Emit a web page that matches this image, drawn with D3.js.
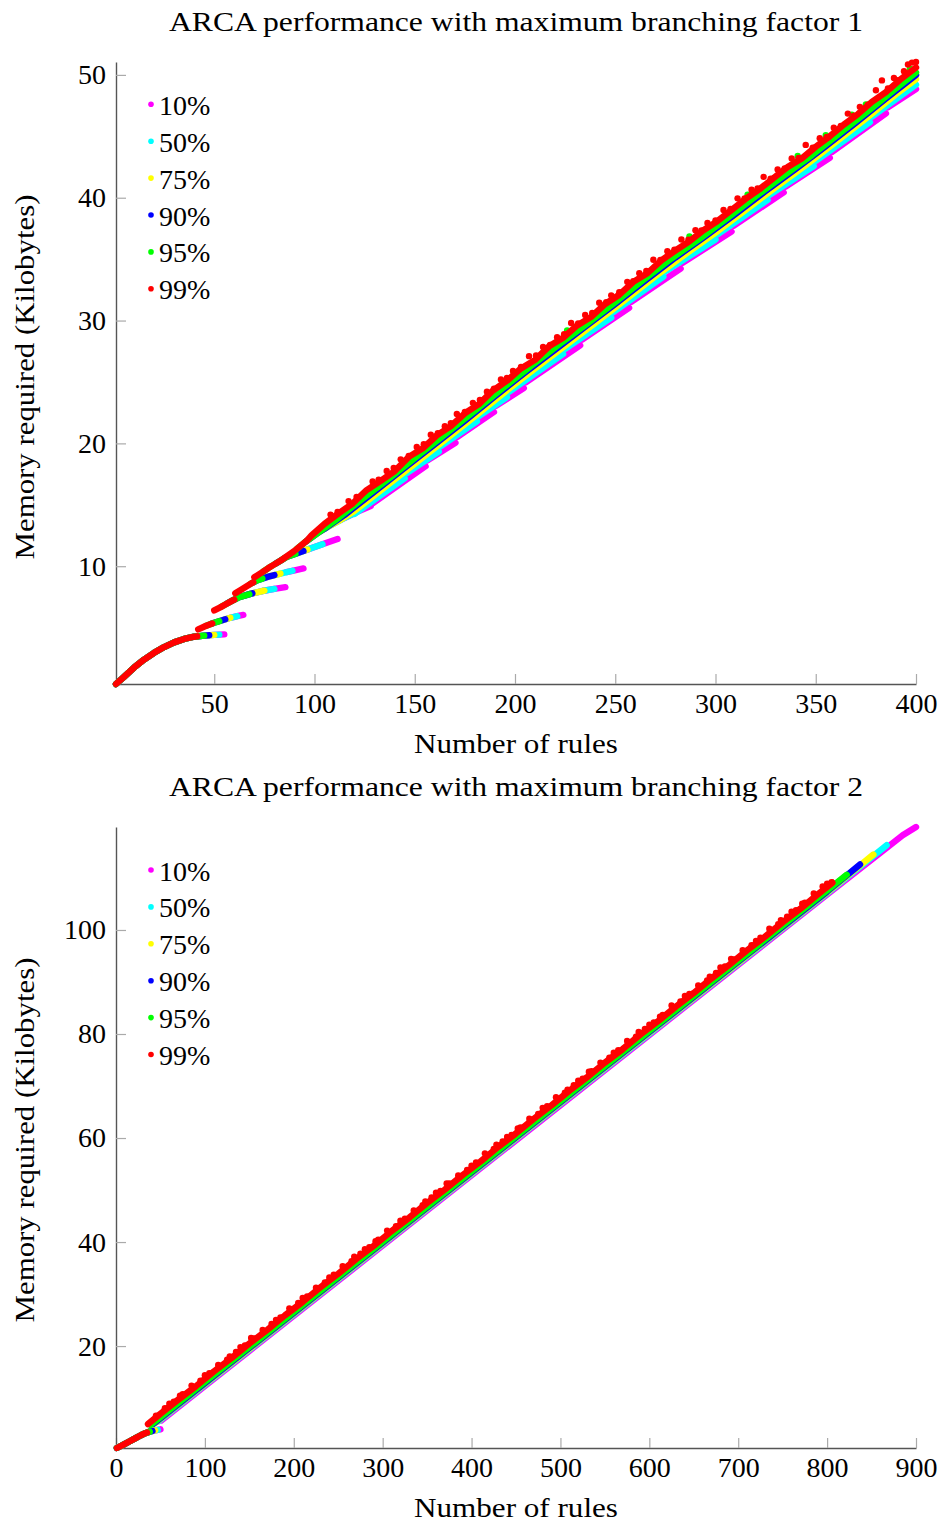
<!DOCTYPE html>
<html>
<head>
<meta charset="utf-8">
<script src="https://cdn.jsdelivr.net/npm/d3@7"></script>
<style>
  body { margin: 0; background: #fff; }
  svg, svg text { font-family: "Liberation Serif", "DejaVu Serif", "Noto Serif", serif; fill: #000; }
</style>
</head>
<body>
<svg id="chart" width="944" height="1524" font-family="Liberation Serif, DejaVu Serif, serif"></svg>
<script>
"use strict";

// series labels and colours, drawn in this order (99% ends up on top)
var seriesNames = ["10%", "50%", "75%", "90%", "95%", "99%"];
var seriesColors = ["#ff00ff", "#00ffff", "#ffff00", "#0000ff", "#00ff00", "#ff0000"];

// tick values
var topXTicks = [50, 100, 150, 200, 250, 300, 350, 400];
var topYTicks = [10, 20, 30, 40, 50];
var botXTicks = [0, 100, 200, 300, 400, 500, 600, 700, 800, 900];
var botYTicks = [20, 40, 60, 80, 100];

// branching factor 1 -- every series is a list of runs of [rules, kilobytes]
var top10 = [
  [[1,0.41],[5,1.0],[10,1.75],[15,2.4],[20,2.95],[25,3.42],[30,3.8],[35,4.08],[40,4.26],[45,4.35],[50,4.41],[55,4.45]],
  [[56,5.7],[58,5.8],[62,5.95],[64.5,6.03]],
  [[65.5,7.62],[68,7.75],[74,7.98],[80,8.15],[85.5,8.29]],
  [[86,9.52],[89,9.63],[94.5,9.82]],
  [[95,11.27],[99,11.5],[105,11.85],[111.5,12.22]],
  [[112,13.68],[114,13.85],[121,14.4],[128,14.89]],
  [[129,15.11],[155.4,18.14]],
  [[156.4,18.62],[170.3,20.05]],
  [[171.3,20.53],[189.5,22.56]],
  [[190.5,23.05],[204.4,24.5]],
  [[205.4,24.97],[232.5,27.98]],
  [[233.5,28.45],[256.9,31.03]],
  [[258,31.52],[282.6,34.23]],
  [[283.6,34.7],[308,37.24]],
  [[309,37.72],[334,40.43]],
  [[335,40.9],[357,43.25]],
  [[358,43.72],[385,46.87]],
  [[386,47.35],[400,48.85]]
];
var top50 = [
  [[1,0.41],[5,1.0],[10,1.75],[15,2.4],[20,2.95],[25,3.42],[30,3.8],[35,4.08],[40,4.26],[45,4.35],[50,4.41],[52.5,4.43]],
  [[53.5,5.58],[54,5.6],[58,5.8],[61.5,5.93]],
  [[62.5,7.48],[68,7.75],[74,7.98],[80,8.15]],
  [[81,9.32],[83,9.4],[89,9.63]],
  [[90,10.98],[92,11.1],[99,11.5],[104,11.79]],
  [[105,13.04],[108,13.33],[114,13.85],[119,14.24]],
  [[120,14.26],[145,17.16]],
  [[146,17.59],[162,19.34]],
  [[163,19.77],[181,21.79]],
  [[182,22.22],[196,23.77]],
  [[197,24.2],[224,27.28]],
  [[225,27.7],[248,30.25]],
  [[249,30.68],[274,33.57]],
  [[275,34.0],[300,36.6]],
  [[301,37.02],[326,39.82]],
  [[327,40.24],[349,42.58]],
  [[350,43.0],[377,46.16]],
  [[378,46.6],[400,49.2]]
];
var top75 = [
  [[1,0.41],[5,1.0],[10,1.75],[15,2.4],[20,2.95],[25,3.42],[30,3.8],[35,4.08],[40,4.26],[45,4.35],[50,4.41]],
  [[51,5.45],[54,5.6],[58,5.8]],
  [[59,7.2],[62,7.45],[68,7.75],[74,7.98],[75,8.01]],
  [[76,9.1],[77,9.15],[83,9.4]],
  [[83.5,10.5],[86,10.75],[92,11.1],[96.5,11.36]],
  [[97.5,12.22],[102,12.75],[108,13.33],[112,13.68],[120,14.51],[135,16.43],[150,18.35],[165,20.27],[180,22.21],[195,24.19],[210,26.09],[225,27.95],[240,29.81],[255,31.69],[270,33.61],[285,35.41],[300,37.15],[315,39.01],[330,40.85],[345,42.65],[360,44.53],[375,46.45],[390,48.43],[400,49.65]]
];
var top90 = [
  [[1,0.41],[5,1.0],[10,1.75],[15,2.4],[20,2.95],[25,3.42],[30,3.8],[35,4.08],[40,4.26],[45,4.35],[47.5,4.38]],
  [[48.5,5.31],[50,5.4],[54,5.6],[55.5,5.68]],
  [[56.5,6.98],[59,7.2],[62,7.45],[68,7.75],[69,7.79]],
  [[69.5,8.69],[72,8.88],[77,9.15],[80,9.28]],
  [[80.5,10.2],[83,10.45],[86,10.75],[92,11.1],[94.5,11.24]],
  [[95.5,11.98],[102,12.75],[105,13.04],[115,14.17],[130,16.09],[145,18.01],[160,19.93],[175,21.85],[190,23.83],[205,25.77],[220,27.63],[235,29.49],[250,31.35],[265,33.27],[280,35.13],[295,36.87],[310,38.69],[325,40.55],[340,42.35],[355,44.19],[370,46.11],[385,48.07],[400,50.0]]
];
var top95 = [
  [[1,0.41],[5,1.0],[10,1.75],[15,2.4],[20,2.95],[25,3.42],[30,3.8],[35,4.08],[40,4.26],[45,4.35]],
  [[46,5.15],[50,5.4],[52.5,5.52]],
  [[53.5,6.7],[56,6.93],[59,7.2],[62,7.45],[67.5,7.72]],
  [[68,8.55],[69,8.65],[72,8.88],[74,8.99]],
  [[74.5,9.57],[77,9.85],[80,10.15],[83,10.45],[86,10.75],[90.5,11.01]],
  [[91,11.38],[96,12.05],[102,12.75],[110,13.68],[124,15.5],[138,17.25],[152,19.05],[166,20.85],[180,22.65],[194,24.5],[208,26.3],[222,28.05],[236,29.75],[250,31.5],[264,33.3],[278,35.05],[292,36.65],[306,38.35],[320,40.1],[334,41.8],[348,43.45],[362,45.25],[376,47.05],[390,48.9],[400,50.2]]
];
var top99 = [
  [[1,0.41],[5,1.0],[10,1.75],[15,2.4],[20,2.95],[25,3.42],[30,3.8],[35,4.08],[40,4.26],[41.5,4.29]],
  [[42,4.85],[46,5.15],[49,5.34]],
  [[50,6.4],[53,6.65],[56,6.93],[59,7.2],[60,7.28]],
  [[60.5,7.8],[63,8.05],[66,8.35],[69,8.65],[69.5,8.69]],
  [[70,9.1],[74,9.52],[77,9.85],[80,10.15],[84,10.55],[90,11.25],[96,12.05],[98.5,12.5],[105,13.45],[112,14.3],[119,15.1],[126,16.2],[133,16.95],[140,17.75],[147,18.9],[154,19.6],[161,20.65],[168,21.4],[175,22.45],[182,23.2],[189,24.3],[196,25.1],[203,26.1],[210,26.8],[217,27.9],[224,28.6],[231,29.6],[238,30.3],[245,31.35],[252,32.1],[259,33.15],[266,33.85],[273,34.9],[280,35.7],[287,36.45],[294,37.35],[301,38.1],[308,39.0],[315,39.9],[322,40.7],[329,41.6],[336,42.5],[343,43.2],[350,44.15],[357,45.0],[364,45.95],[371,46.8],[378,47.8],[385,48.6],[392,49.6],[400,50.6]]
];
// single points standing out above the bands
var top95Out = [[226,29.2],[287,36.85],[316,40.25],[341,43.4],[355,45.1],[368,46.75],[375,47.6],[397,50.5]];
var top99Out = [
  [108,14.2],[111.5,14.42],[117,15.3],[121,15.64],[129,16.9],[132,17.05],[136,17.75],[139.5,18.0],[143,18.7],[147,18.97],
  [151,19.7],[154.5,19.93],[158,20.7],[161.5,20.82],[165,21.4],[168,21.65],[171,22.4],[175,22.55],[179,23.3],[182.5,23.54],
  [186,24.2],[189.5,24.46],[193,25.2],[196,25.32],[199,25.9],[203,26.22],[207,27.1],[210.5,27.15],[214,27.85],[217.5,28.02],
  [221,28.65],[224.5,28.89],[228,29.8],[231.5,29.76],[235,30.45],[238.5,30.62],[242,31.45],[245.5,31.49],[248,32.05],[252,32.31],
  [256,33.15],[259,33.2],[262,33.85],[265.5,34.03],[269,34.95],[272.5,34.93],[276,35.65],[279.5,35.77],[283,36.6],[286.5,36.58],
  [290,37.35],[293,37.34],[296,37.95],[300,38.15],[304,39.0],[307.5,39.08],[311,39.95],[314.5,39.95],[318,40.65],[321,40.75],
  [324,41.7],[327.5,41.55],[331,42.3],[334.5,42.39],[338,43.2],[341.5,43.23],[345,44.3],[348.5,44.07],[352,44.85],[355.5,44.95],
  [359,45.7],[362.5,45.85],[366,46.85],[369,46.68],[372,47.4],[376,47.58],[380,48.75],[383,49.55],[386,48.9],[389,49.75],
  [391,49.56],[394,50.3],[396,50.85],[398,51.0],[400,51.05]
];

// branching factor 2
var bot10 = [
  [[1,0.4],[8,1.0],[15,1.65],[22,2.3],[28,2.85],[33,3.25],[38,3.55],[44,3.8],[50,4.0]],
  [[51,5.7],[100,12.32],[200,25.82],[300,39.32],[400,52.82],[500,66.32],[600,79.82],[700,93.32],[800,106.82],[870,116.2],[885,118.2],[900,119.8]]
];
var bot50 = [
  [[1,0.4],[8,1.0],[15,1.65],[22,2.3],[28,2.85],[33,3.25],[38,3.55],[44,3.8],[47,3.9]],
  [[48,5.55],[100,12.57],[200,26.07],[300,39.57],[400,53.07],[500,66.57],[600,80.07],[700,93.57],[800,107.07],[867,116.3]]
];
var bot75 = [
  [[1,0.4],[8,1.0],[15,1.65],[22,2.3],[28,2.85],[33,3.25],[38,3.55],[44,3.8]],
  [[45,5.3],[100,12.72],[200,26.22],[300,39.72],[400,53.22],[500,66.72],[600,80.22],[700,93.72],[800,107.22],[852,114.5]]
];
var bot90 = [
  [[1,0.4],[8,1.0],[15,1.65],[22,2.3],[28,2.85],[33,3.25],[38,3.55],[41,3.68]],
  [[42,5.04],[100,12.87],[200,26.37],[300,39.87],[400,53.37],[500,66.87],[600,80.37],[700,93.87],[800,107.37],[837,112.6]]
];
var bot95 = [
  [[1,0.4],[8,1.0],[15,1.65],[22,2.3],[28,2.85],[33,3.25],[38,3.55]],
  [[39,4.83],[100,13.07],[200,26.57],[300,40.07],[400,53.57],[500,67.07],[600,80.57],[700,94.07],[800,107.57],[822,110.6]]
];
var bot99 = [
  [[1,0.4],[8,1.0],[15,1.65],[22,2.3],[28,2.85],[33,3.25],[35,3.37]],
  [[36,5.0],[50,7.0],[70,9.7],[90,12.3],[110,15.1],[130,17.7],[150,20.5],[170,23.1],[190,25.9],[210,28.5],[230,31.3],[250,33.9],[270,36.7],[290,39.3],[310,42.1],[330,44.7],[350,47.5],[370,50.1],[390,52.9],[410,55.5],[430,58.3],[450,60.9],[470,63.7],[490,66.3],[510,69.1],[530,71.7],[550,74.5],[570,77.1],[590,79.9],[610,82.5],[630,85.3],[650,87.9],[670,90.7],[690,93.3],[710,96.1],[730,98.7],[750,101.5],[770,104.1],[790,106.9],[806,109.1]]
];
var bot99Out = [
  [45,6.6],[55,8.05],[60,8.9],[65,9.3],[72,10.45],[75,10.75],[85,12.4],[95,13.35],[100,14.4],[105,14.8],
  [115,16.35],[125,17.4],[128,18.0],[135,18.85],[140,19.8],[145,20.1],[152,21.55],[155,21.45],[165,23.1],[175,24.25],
  [180,25.0],[185,25.5],[195,27.25],[205,28.3],[210,29.25],[215,29.55],[225,31.2],[235,32.25],[240,33.2],[245,33.7],
  [255,35.35],[265,36.3],[268,37.2],[275,37.75],[280,38.6],[285,39.0],[292,40.15],[295,40.45],[305,42.2],[315,43.05],
  [320,44.1],[325,44.5],[335,46.05],[345,47.1],[348,47.8],[355,48.55],[360,49.5],[365,49.8],[372,51.25],[375,51.25],
  [385,52.8],[395,53.85],[400,54.7],[405,55.3],[415,57.05],[425,57.9],[428,58.7],[435,59.35],[440,60.2],[445,60.6],
  [452,61.85],[455,62.05],[465,63.7],[475,64.65],[480,65.8],[485,66.1],[495,67.85],[505,68.7],[508,69.3],[515,70.15],
  [520,71.0],[525,71.4],[532,72.75],[535,72.85],[545,74.5],[555,75.45],[560,76.4],[565,76.9],[575,78.65],[585,79.5],
  [588,80.4],[595,80.95],[600,81.8],[605,82.2],[612,83.35],[615,83.65],[625,85.5],[635,86.25],[640,87.3],[645,87.7],
  [655,89.35],[665,90.3],[668,91.0],[675,91.75],[680,92.8],[685,93.0],[692,94.45],[695,94.35],[705,96.1],[715,97.05],
  [720,97.9],[725,98.5],[735,100.25],[745,101.1],[748,101.9],[755,102.55],[760,103.5],[765,103.8],[772,105.05],[775,105.25],
  [785,107.0],[795,108.35],[800,108.9],[805,109.2]
];

var svg = d3.select("#chart");
svg.append("rect").attr("width", 944).attr("height", 1524).style("fill", "#fff");
var textFont = "'Liberation Serif', 'DejaVu Serif', serif";

// draws one scatter panel
function drawPanel(p) {
  var x = d3.scaleLinear().domain(p.xDomain).range([p.left, p.right]);
  var y = d3.scaleLinear().domain(p.yDomain).range([p.bottom, p.top]);
  var cx = (p.left + p.right) / 2;

  // axis lines on the left and bottom, ticks pointing inwards
  var xAxis = svg.append("g").attr("transform", "translate(0," + p.bottom + ")")
    .call(d3.axisBottom(x).tickValues(p.xTicks).tickSizeInner(-10).tickSizeOuter(0).tickPadding(9.5));
  var yAxis = svg.append("g").attr("transform", "translate(" + p.left + ",0)")
    .call(d3.axisLeft(y).tickValues(p.yTicks).tickSizeInner(-10).tickSizeOuter(0).tickPadding(10));
  [xAxis, yAxis].forEach(function (a) {
    a.attr("font-family", textFont).attr("font-size", 28);
    a.select(".domain").attr("stroke", "#555").attr("stroke-width", 1.4);
    a.selectAll(".tick line").attr("stroke", "#aaa").attr("stroke-width", 1.2);
    a.selectAll(".tick text").attr("fill", "#000").style("font-family", textFont).style("font-size", "28px");
  });

  // series as thick runs of marks, plus the single points that stick out
  var line = d3.line().x(function (d) { return x(d[0]); }).y(function (d) { return y(d[1]); });
  p.series.forEach(function (runs, i) {
    svg.append("g").selectAll("path").data(runs).enter().append("path")
      .attr("d", line)
      .style("fill", "none").style("stroke", seriesColors[i]).style("stroke-width", 6.4)
      .style("stroke-linecap", "round").style("stroke-linejoin", "round");
    if (p.outliers[i]) {
      svg.append("g").selectAll("circle").data(p.outliers[i]).enter().append("circle")
        .attr("cx", function (d) { return x(d[0]); })
        .attr("cy", function (d) { return y(d[1]); })
        .attr("r", 3.2).style("fill", seriesColors[i]);
    }
  });

  // legend, no frame
  var items = svg.append("g").attr("transform", "translate(151," + p.legendY + ")")
    .selectAll("g").data(seriesNames).enter().append("g")
    .attr("transform", function (d, i) { return "translate(0," + i * 36.9 + ")"; });
  items.append("circle").attr("r", 2.8).style("fill", function (d, i) { return seriesColors[i]; });
  items.append("text").attr("x", 8).attr("y", 10.5)
    .style("font-family", textFont).style("font-size", "28px").text(function (d) { return d; });

  // title and axis labels
  svg.append("text").attr("x", cx).attr("y", p.titleY).attr("text-anchor", "middle")
    .attr("textLength", 694).attr("lengthAdjust", "spacingAndGlyphs")
    .style("font-family", textFont).style("font-size", "28px").text(p.title);
  svg.append("text").attr("x", cx).attr("y", p.xLabelY).attr("text-anchor", "middle")
    .attr("textLength", 204).attr("lengthAdjust", "spacingAndGlyphs")
    .style("font-family", textFont).style("font-size", "28px").text("Number of rules");
  svg.append("text").attr("transform", "translate(34," + p.yLabelMid + ") rotate(-90)")
    .attr("text-anchor", "middle")
    .attr("textLength", 365).attr("lengthAdjust", "spacingAndGlyphs")
    .style("font-family", textFont).style("font-size", "28px").text("Memory required (Kilobytes)");
}

drawPanel({
  left: 116, right: 916, top: 62, bottom: 684,
  xDomain: [1, 400], yDomain: [0.41, 51.05],
  xTicks: topXTicks, yTicks: topYTicks,
  series: [top10, top50, top75, top90, top95, top99],
  outliers: [null, null, null, null, top95Out, top99Out],
  legendY: 104.3,
  title: "ARCA performance with maximum branching factor 1",
  titleY: 31, xLabelY: 753, yLabelMid: 377
});

drawPanel({
  left: 116, right: 916, top: 827, bottom: 1448,
  xDomain: [0, 900], yDomain: [0.4, 119.8],
  xTicks: botXTicks, yTicks: botYTicks,
  series: [bot10, bot50, bot75, bot90, bot95, bot99],
  outliers: [null, null, null, null, null, bot99Out],
  legendY: 870,
  title: "ARCA performance with maximum branching factor 2",
  titleY: 796, xLabelY: 1517, yLabelMid: 1140
});
</script>
</body>
</html>
